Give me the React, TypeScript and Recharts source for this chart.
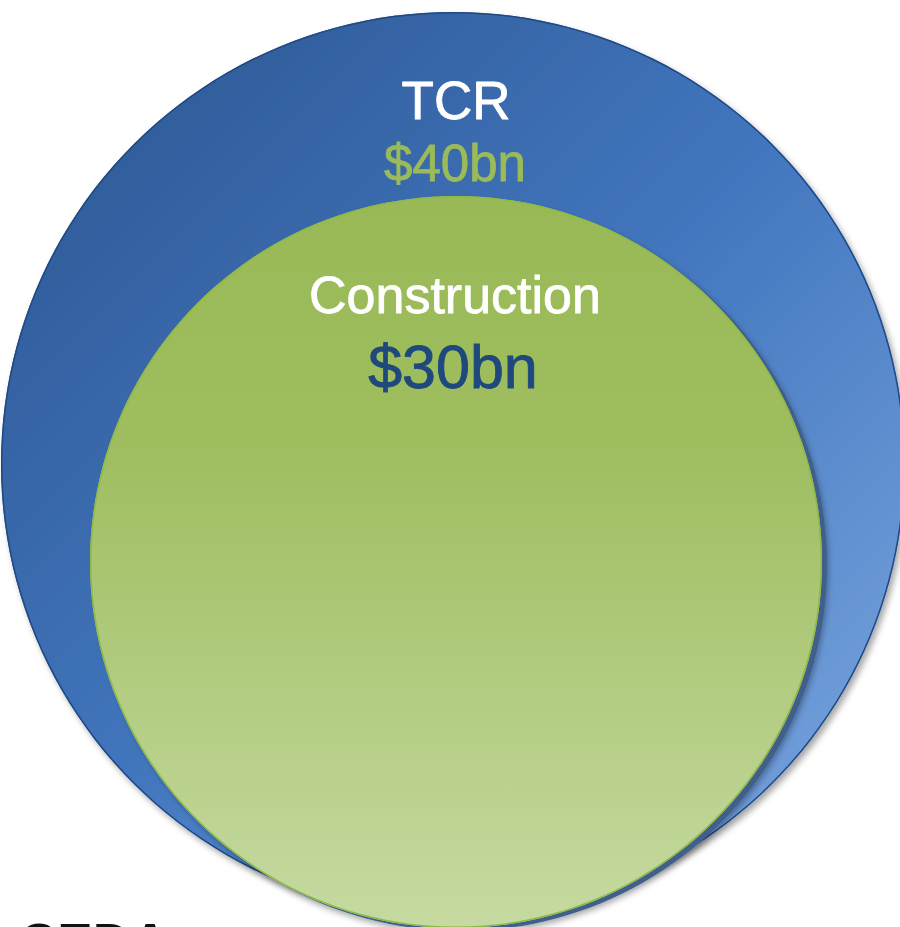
import React from "react";
import { PieChart, Pie } from "recharts";

// Data
const categories = ["TCR", "Construction"];
const values = [40, 30]; // $bn
const valueLabels = ["$40bn", "$30bn"];
const logoText = "CEDA";

const tcrData = [{ name: categories[0], value: values[0] }];
const conData = [{ name: categories[1], value: values[1] }];

const FONT = "'Liberation Sans', Arial, Helvetica, sans-serif";

const full = { startAngle: 90, endAngle: -270, isAnimationActive: false, stroke: "none", dataKey: "value", nameKey: "name" };

export default function App() {
  return (
    <div style={{ position: "absolute", left: 0, top: 0, width: 900, height: 927, background: "#fff", overflow: "hidden" }}>
      <PieChart width={900} height={927} margin={{ top: 0, right: 0, bottom: 0, left: 0 }}>
        <defs>
          <linearGradient id="blueGrad" x1="0" y1="0" x2="1" y2="1">
            <stop offset="0" stopColor="#2a548e" />
            <stop offset="0.5" stopColor="#4276be" />
            <stop offset="1" stopColor="#80abe3" />
          </linearGradient>
          <linearGradient id="greenGrad" x1="0" y1="0" x2="0" y2="1">
            <stop offset="0" stopColor="#99b956" />
            <stop offset="0.35" stopColor="#9fbe60" />
            <stop offset="1" stopColor="#c6daa1" />
          </linearGradient>
          <filter id="outerShadow" x="-10%" y="-10%" width="120%" height="120%">
            <feDropShadow dx="3" dy="4" stdDeviation="3" floodColor="#000" floodOpacity="0.35" />
          </filter>
          <filter id="innerShadow" x="-10%" y="-10%" width="120%" height="120%">
            <feDropShadow dx="1" dy="3" stdDeviation="3" floodColor="#000" floodOpacity="0.35" />
          </filter>
        </defs>
        <Pie
          {...full}
          data={tcrData}
          cx={453}
          cy={464}
          outerRadius={452}
          innerRadius={0}
          fill="url(#blueGrad)"
          style={{ filter: "url(#outerShadow)" }}
        />
        <Pie
          {...full}
          data={tcrData}
          cx={453}
          cy={464}
          outerRadius={452}
          innerRadius={450.5}
          fill="#1f4a84"
        />
        <Pie
          {...full}
          data={conData}
          cx={461}
          cy={565}
          outerRadius={366}
          innerRadius={0}
          fill="#3f5f8b"
          style={{ filter: "url(#innerShadow)" }}
        />
        <Pie
          {...full}
          data={conData}
          cx={456}
          cy={562}
          outerRadius={366}
          innerRadius={0}
          fill="url(#greenGrad)"
        />
        <Pie
          {...full}
          data={conData}
          cx={456}
          cy={562}
          outerRadius={366}
          innerRadius={364.5}
          fill="#8fba47"
        />
      </PieChart>
      <svg width={900} height={927} style={{ position: "absolute", left: 0, top: 0, pointerEvents: "none" }}>
        <text x={456} y={119} textAnchor="middle" fill="#ffffff" stroke="#ffffff" strokeWidth={0.8} fontFamily={FONT} fontSize={53}>
          {categories[0]}
        </text>
        <text x={455} y={181} textAnchor="middle" fill="#9bbb59" stroke="#9bbb59" strokeWidth={0.8} fontFamily={FONT} fontSize={51}>
          {valueLabels[0]}
        </text>
        <text x={455} y={313} textAnchor="middle" fill="#ffffff" stroke="#ffffff" strokeWidth={0.8} fontFamily={FONT} fontSize={52}>
          {categories[1]}
        </text>
        <text x={453} y={388} textAnchor="middle" fill="#1f497d" stroke="#1f497d" strokeWidth={0.9} fontFamily={FONT} fontSize={61}>
          {valueLabels[1]}
        </text>
        <text x={19} y={961} textAnchor="start" fill="#111" fontFamily={FONT} fontWeight="bold" fontSize={53}>
          {logoText}
        </text>
      </svg>
    </div>
  );
}
